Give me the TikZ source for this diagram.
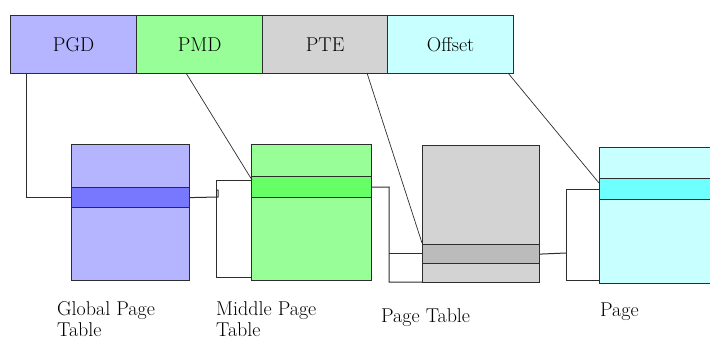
\documentclass[tikz,border=0pt]{standalone}
\usepackage{mathptmx}
\usetikzlibrary{calc}
\definecolor{gdlight}{RGB}{180,180,255}
\definecolor{gddark}{RGB}{120,120,255}
\definecolor{mdlight}{RGB}{152,255,152}
\definecolor{mddark}{RGB}{102,255,102}
\definecolor{telight}{RGB}{211,211,211}
\definecolor{tedark}{RGB}{187,187,187}
\definecolor{oflight}{RGB}{200,255,255}
\definecolor{ofdark}{RGB}{110,255,255}
\definecolor{ink}{RGB}{45,45,45}
\tikzset{
  cell/.style={draw=ink, line width=1.2pt, inner sep=0pt, anchor=north west,
    minimum width=126pt, minimum height=58pt, font=\rmfamily\fontsize{20}{22}\selectfont},
  tablebox/.style={draw=ink, line width=1.2pt, inner sep=0pt, anchor=north west,
    minimum height=136pt},
  band/.style={draw=ink, line width=1.2pt, inner sep=0pt, anchor=north west},
  link/.style={draw=ink, line width=1pt},
  caption/.style={anchor=base west, inner sep=0pt, align=left,
    font=\rmfamily\fontsize{20}{21}\selectfont}
}
\begin{document}
\begin{tikzpicture}[x=1pt, y=-1pt]
\useasboundingbox (0,0) rectangle (710,340);
\clip (0,0) rectangle (710,340);

% virtual address fields
\node[cell, fill=gdlight, minimum width=126pt] (pgd) at (10,15) {PGD};
\node[cell, fill=mdlight, minimum width=126pt] (pmd) at (136,15) {PMD};
\node[cell, fill=telight, minimum width=125pt] (pte) at (262,15) {PTE};
\node[cell, fill=oflight, minimum width=126pt] (off) at (387,15) {Offset};

% global page table
\node[tablebox, fill=gdlight, minimum width=118pt] (gpt) at (71,144) {};
\node[band, fill=gddark, minimum width=118pt, minimum height=20pt] (gptband) at (71,187) {};
% middle page table
\node[tablebox, fill=mdlight, minimum width=120pt] (mpt) at (251,144) {};
\node[band, fill=mddark, minimum width=120pt, minimum height=21pt] (mptband) at (251,176) {};
% page table
\node[tablebox, fill=telight, minimum width=117pt, minimum height=137pt] (pt) at (422,145) {};
\node[band, fill=tedark, minimum width=117pt, minimum height=19pt] (ptband) at (422,244) {};
% page
\node[tablebox, fill=oflight, minimum width=130pt, minimum height=136pt] (pg) at (599,147) {};
\node[band, fill=ofdark, minimum width=130pt, minimum height=21pt] (pgband) at (599,178) {};

% captions (base anchor sits on the last line)
\node[caption] (gptcap) at (57,336) {Global Page\\Table};
\node[caption] (mptcap) at (216,336) {Middle Page\\Table};
\node[caption] (ptcap) at (381,322) {Page Table};
\node[caption] (pgcap) at (600,316) {Page};

% connector end points
\coordinate (pgdfoot) at (26,73);
\coordinate (pmdfoot) at (186,73);
\coordinate (ptefoot) at (367,73);
\coordinate (offfoot) at (508,73);
\coordinate (mpttop) at (252,180);
\coordinate (mptbot) at (252,277);
\coordinate (ptentry) at (422,243);
\coordinate (pttop) at (422,253);
\coordinate (ptbot) at (422,282);
\coordinate (pgtop) at (599,189);
\coordinate (pgentry) at (599,183);
\coordinate (pgbot) at (599,280);

% PGD indexes the global page table
\draw[link] (pgdfoot) |- (gptband.west);
% global entry points at the middle page table
\draw[link] (gptband.east) -- (218,197) -- (218,190) -- (216,190);
\draw[link] (mpttop) -- (216,180) -- (216,277) -- (mptbot);
% PMD indexes the middle page table
\draw[link, line width=0.7pt] (pmdfoot) -- (mpttop);
% middle entry points at the page table
\draw[link] (mptband.east) -- (389,187) -- (389,282) -- (ptbot);
\draw[link] (389,253) -- (pttop);
% PTE indexes the page table
\draw[link, line width=0.7pt] (ptefoot) -- (ptentry);
% page table entry points at the page
\draw[link] (ptband.east) -- (566,253);
\draw[link] (pgtop) -- (566,189) -- (566,280) -- (pgbot);
% offset indexes the page
\draw[link, line width=0.7pt] (offfoot) -- (pgentry);
\end{tikzpicture}
\end{document}
